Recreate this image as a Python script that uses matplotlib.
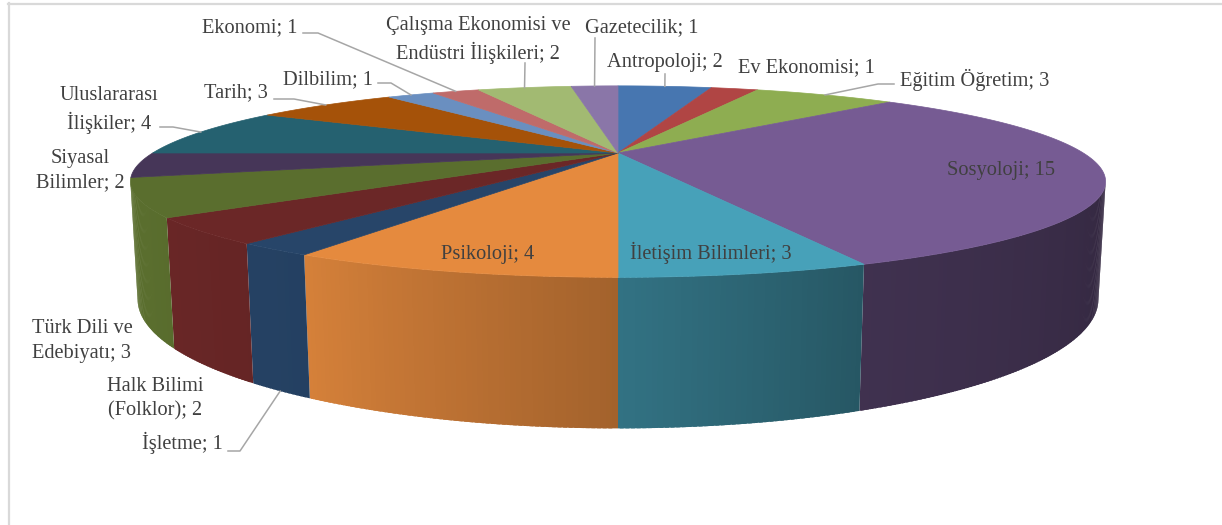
import numpy as np
import matplotlib
matplotlib.use('Agg')
import matplotlib.pyplot as plt
from matplotlib.collections import PolyCollection
from matplotlib.colors import to_rgb

# data (clockwise from 12 o'clock)
names = ['Antropoloji', 'Ev Ekonomisi', 'Eğitim Öğretim', 'Sosyoloji',
         'İletişim Bilimleri', 'Psikoloji', 'İşletme', 'Halk Bilimi\n(Folklor)',
         'Türk Dili ve\nEdebiyatı', 'Siyasal\nBilimler', 'Uluslararası\nİlişkiler',
         'Tarih', 'Dilbilim', 'Ekonomi', 'Çalışma Ekonomisi ve\nEndüstri İlişkileri',
         'Gazetecilik']
values = [2, 1, 3, 15, 3, 4, 1, 2, 3, 2, 4, 3, 1, 1, 2, 1]

top_colors = ['#4776B0', '#B04544', '#8EAD51', '#765B93', '#47A1B9', '#E58A3E',
              '#274569', '#6B2727', '#5A6E2E', '#463658', '#256170', '#A55209',
              '#6A8FC0', '#BF6B6A', '#A2BA72', '#8A76A8']

# label centres in pixels (layout)
label_pos = [(665, 62), (806, 68), (975, 80), (1001, 171), (711, 253), (488, 255),
             (182, 443), (155, 399), (82, 341), (80, 171), (109, 110), (236, 93),
             (328, 80), (250, 28), (478, 40), (642, 28)]

# leader line points before the slice anchor
leaders = {0: [(665, 74)],
           2: [(894, 84), (878, 84)],
           6: [(228, 451), (240, 451)],
           10: [(160, 127), (173, 127)],
           11: [(274, 99), (294, 99)],
           12: [(378, 83), (391, 83)],
           13: [(303, 33), (318, 33)],
           14: [(525, 63)],
           15: [(595, 38)]}

# camera for the 3d look
CX, CY = 618, 153
ELEV = np.radians(10.8)
DIST = 3.288
FOC = 1530
DEPTH = 0.24


def project(t, z):
    """t : angle in degrees clockwise from the far point, z : height"""
    t = np.radians(np.asarray(t, dtype=float))
    X = np.sin(t)
    Y = np.cos(t)
    s, c = np.sin(ELEV), np.cos(ELEV)
    zc = c * Y - s * z + DIST
    sx = FOC * X / zc
    sy = FOC * (s * Y + c * z) / zc
    return CX + sx, CY - sy


def shade(t):
    # side walls get darker toward the right
    return np.interp(t, [100, 157.5, 180, 210, 240], [0.42, 0.54, 0.71, 0.93, 1.0])


total = sum(values)
cum = np.concatenate([[0], np.cumsum(values)])
t_start = cum[:-1] / total * 360
t_end = cum[1:] / total * 360

fig = plt.figure(figsize=(12.22, 5.25), dpi=100)
ax = fig.add_axes([0, 0, 1, 1])
ax.set_xlim(0, 1222)
ax.set_ylim(525, 0)
ax.axis('off')

# visible part of the side wall
c_e = np.cos(ELEV)
t_lo = np.degrees(np.arccos(-1 / (DIST * c_e)))
t_hi = 360 - t_lo

side_polys = []
side_cols = []
for i in range(len(values)):
    a = max(t_start[i], t_lo)
    b = min(t_end[i], t_hi)
    if a >= b:
        continue
    n = int(np.ceil((b - a) / 0.5))
    ts = np.linspace(a, b, n + 1)
    base = np.array(to_rgb(top_colors[i]))
    for k in range(n):
        # strips overlap a little so no seams show
        ta = ts[k]
        tb = min(ts[k + 1] + 0.35, b)
        x1, y1 = project(ta, 0)
        x2, y2 = project(tb, 0)
        x3, y3 = project(tb, -DEPTH)
        x4, y4 = project(ta, -DEPTH)
        side_polys.append([(x1, y1), (x2, y2), (x3, y3), (x4, y4)])
        side_cols.append(np.clip(base * shade((ts[k] + ts[k + 1]) / 2), 0, 1))
    pass

ax.add_collection(PolyCollection(side_polys, facecolors=side_cols,
                                 edgecolors='none', linewidths=0, zorder=1))

# top faces
top_polys = []
for i in range(len(values)):
    ts = np.linspace(t_start[i], t_end[i], max(int((t_end[i] - t_start[i]) * 2), 4))
    xs, ys = project(ts, 0)
    top_polys.append([(CX, CY)] + list(zip(xs, ys)))
    pass
ax.add_collection(PolyCollection(top_polys, facecolors=top_colors,
                                 edgecolors=top_colors, linewidths=0.5, zorder=2))

# labels
for i, name in enumerate(names):
    lx, ly = label_pos[i]
    ax.text(lx, ly, f'{name}; {values[i]}', ha='center', va='center',
            fontsize=14.7, family='Liberation Serif', color='#404040',
            linespacing=1.38, zorder=5)
    if i in leaders:
        tm = (t_start[i] + t_end[i]) / 2
        z = -DEPTH if 90 < tm < 270 else 0
        axp, ayp = project(tm, z)
        pts = leaders[i] + [(float(axp), float(ayp))]
        ax.plot([p[0] for p in pts], [p[1] for p in pts], color='#A6A6A6',
                lw=1.1, zorder=4)
    pass

# chart border (top and left only visible)
ax.plot([8, 1222], [3.5, 3.5], color='#D9D9D9', lw=1.6, zorder=0)
ax.plot([8.5, 8.5], [3, 525], color='#D9D9D9', lw=1.6, zorder=0)

fig.savefig('out.png', dpi=100)
